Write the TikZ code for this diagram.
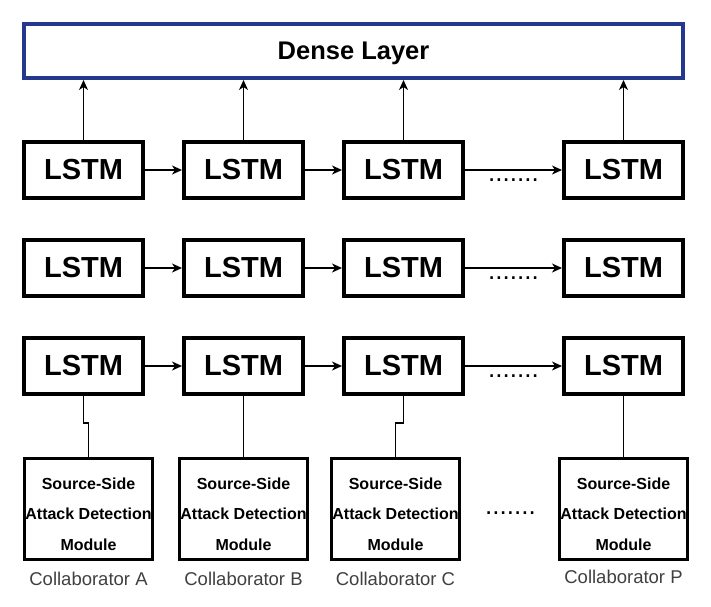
\documentclass[tikz,border=0pt]{standalone}
\usepackage{fontspec}
\setmainfont{Liberation Sans}
\definecolor{DenseBlue}{HTML}{24398E}
\definecolor{LabelGray}{HTML}{404040}
\usetikzlibrary{arrows.meta,positioning}
\tikzset{
  lstmNode/.style={draw=black, line width=4pt, fill=white, minimum width=119pt, minimum height=56pt, inner sep=0pt, font=\fontsize{29}{34}\selectfont\bfseries},
  denseNode/.style={draw=DenseBlue, line width=4pt, fill=white, minimum width=659pt, minimum height=54pt, inner sep=0pt, text depth=0pt, font=\fontsize{25.5}{30}\selectfont\bfseries},
  moduleNode/.style={draw=black, line width=3pt, fill=white, align=center, minimum width=128pt, minimum height=101pt, inner sep=0pt, font=\fontsize{16}{30.5}\selectfont\bfseries},
  collabLabel/.style={inner sep=0pt, text=LabelGray, font=\fontsize{18.5}{22}\selectfont},
  dotsLabel/.style={inner sep=0pt, font=\fontsize{26}{28}\selectfont},
  flowArrow/.style={-{Stealth[length=10pt,width=9pt,inset=3pt]}, line width=1.5pt},
  linkLine/.style={line width=1.5pt}
}

\begin{document}
\begin{tikzpicture}
\useasboundingbox (0pt,0pt) rectangle (711pt,-606pt);

% dense layer
\node[denseNode] (dense) at (353.5pt,-51pt) {Dense Layer};

% three LSTM rows
\node[lstmNode] (r1a) at (83.5pt,-170pt) {LSTM};
\node[lstmNode, right=37pt of r1a] (r1b) {LSTM};
\node[lstmNode, right=37pt of r1b] (r1c) {LSTM};
\node[lstmNode, right=97pt of r1c] (r1p) {LSTM};

\node[lstmNode, below=38pt of r1a] (r2a) {LSTM};
\node[lstmNode, right=37pt of r2a] (r2b) {LSTM};
\node[lstmNode, right=37pt of r2b] (r2c) {LSTM};
\node[lstmNode, right=97pt of r2c] (r2p) {LSTM};

\node[lstmNode, below=38pt of r2a] (r3a) {LSTM};
\node[lstmNode, right=37pt of r3a] (r3b) {LSTM};
\node[lstmNode, right=37pt of r3b] (r3c) {LSTM};
\node[lstmNode, right=97pt of r3c] (r3p) {LSTM};

% detection modules
\node[moduleNode, below=61pt of r3a, xshift=5pt] (modA) {\strut Source-Side\\Attack Detection\\Module};
\node[moduleNode, below=61pt of r3b] (modB) {\strut Source-Side\\Attack Detection\\Module};
\node[moduleNode, below=61pt of r3c, xshift=-8pt] (modC) {\strut Source-Side\\Attack Detection\\Module};
\node[moduleNode, below=61pt of r3p] (modP) {\strut Source-Side\\Attack Detection\\Module};
\node[dotsLabel, right=24pt of modC, yshift=-4pt] (dotsM) {.......};

\node[collabLabel, below=11pt of modA] (labA) {Collaborator A};
\node[collabLabel, below=11pt of modB] (labB) {Collaborator B};
\node[collabLabel, below=11pt of modC] (labC) {Collaborator C};
\node[collabLabel, below=9pt of modP] (labP) {Collaborator P};

% arrows along the rows
\foreach \r in {1,2,3} {
  \draw[flowArrow] (r\r a) -- (r\r b);
  \draw[flowArrow] (r\r b) -- (r\r c);
  \draw[flowArrow] (r\r c) -- node[dotsLabel, midway, below=8pt] {.......} (r\r p);
}

% top row into dense layer
\foreach \c in {a,b,c,p}
  \draw[flowArrow] (r1\c.north) -- (r1\c.north |- dense.south);

% modules into bottom row
\draw[linkLine] (r3a.south) -- ++(0,-27pt) -| (modA.north);
\draw[linkLine] (r3b.south) -- (modB.north);
\draw[linkLine] (r3c.south) -- ++(0,-27pt) -| (modC.north);
\draw[linkLine] (r3p.south) -- (modP.north);
\end{tikzpicture}
\end{document}
